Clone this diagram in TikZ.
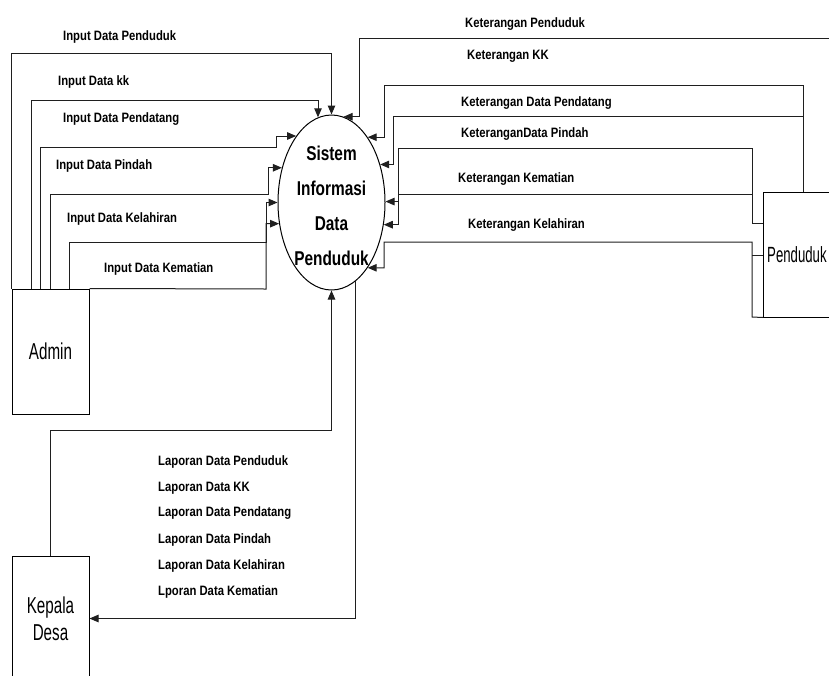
\documentclass[tikz,border=0pt]{standalone}
\usepackage{fontspec}
\setmainfont{Liberation Sans}
\newfontfamily\lblfont[FakeStretch=0.83]{Liberation Sans}
\newfontfamily\entfont[FakeStretch=0.66]{Liberation Sans}
\newfontfamily\pendfont[FakeStretch=0.6]{Liberation Sans}
\newfontfamily\procfont[FakeStretch=0.77]{Liberation Sans}
\usetikzlibrary{arrows.meta,shapes.geometric,calc}
\begin{document}
\begin{tikzpicture}[x=1pt,y=-1pt,
  flow/.style={draw=black!88, line width=1pt, line join=miter, -{Triangle[length=9pt,width=7.5pt]}},
  plain/.style={draw=black!88, line width=1pt},
  lbl/.style={anchor=base west, inner sep=0pt, font=\lblfont\bfseries\fontsize{13.6}{15}\selectfont},
  ent/.style={draw=black, line width=1pt, minimum width=77pt, minimum height=125pt, inner sep=0pt, align=center,
    font=\entfont\fontsize{23}{27}\selectfont},
  procshape/.style={ellipse, draw=black, line width=1pt, minimum width=107pt, minimum height=175pt, inner sep=0pt},
  proctext/.style={align=center, inner sep=0pt, font=\procfont\bfseries\fontsize{20}{35}\selectfont}
]
\useasboundingbox (0,0) rectangle (829,675);
\clip (0,0) rectangle (829,675);
\fill[white] (0,0) rectangle (829,675);

% entities and process
\node[procshape] (proc) at (331.5,202.5) {};
\node[proctext] (proctxt) at (331.5,206) {Sistem\\Informasi\\Data\\Penduduk};
\node[ent] (admin) at (50.5,351.5) {Admin};
\node[ent] (kepala) at (50.5,618.5) {Kepala\\Desa};
\node[ent] (pend) at (802,254.5) {};
\node[anchor=west, inner sep=0pt, font=\pendfont\fontsize{22}{26}\selectfont] (pendtxt) at (767,255) {Penduduk};

% Admin -> process
\draw[flow] (admin.north west) |- (proc.north |- 0,53) -- (proc.north);
\draw[flow] ([xshift=20pt]admin.north west) |- (proc.99 |- 0,100) -- (proc.99);
\draw[flow] ([xshift=29pt]admin.north west) |- (276,147) |- (proc.118.5);
\draw[flow] ([xshift=39pt]admin.north west) |- (268,194) |- (proc.145);
\draw[flow] ([xshift=58pt]admin.north west) |- (266,242) |- (proc.180);
\draw[flow] (admin.north east) -- (266,289) |- (proc.202.5);

% Penduduk -> process
\draw[flow] ([xshift=-10pt]pend.north east) |- (359,38) |- (proc.82.4);
\draw[flow] ([xshift=1pt]pend.north) |- (384,85) |- (proc.61.5);
\coordinate (jPdt) at ([xshift=1pt]pend.north |- 0,116);
\draw[flow] (jPdt) -- (393,116) |- (proc.38.7);
\coordinate (sPdh) at (pend.west |- 0,223);
\draw[flow] (sPdh) -- (752,223) |- (398,148) |- (proc.1);
\coordinate (jKem) at (752,194);
\draw[flow] (jKem) -- (398,194) |- (proc.337.5);
\draw[flow] (pend.south west) -- (752,317) |- (384,242) |- (proc.299.3);
\coordinate (sKel) at (pend.west |- 0,255);
\draw[plain] (sKel) -- (752,255);

% Kepala Desa <-> process
\draw[flow] (kepala.north) |- (0,430 -| proc.south) -- (proc.south);
\draw[flow] (proc.287.5) |- (kepala.east);

% labels
\node[lbl] (l1) at (63,40) {Input Data Penduduk};
\node[lbl] (l2) at (58,85) {Input Data kk};
\node[lbl] (l3) at (63,122) {Input Data Pendatang};
\node[lbl] (l4) at (56,169) {Input Data Pindah};
\node[lbl] (l5) at (67,222) {Input Data Kelahiran};
\node[lbl] (l6) at (104,272) {Input Data Kematian};

\node[lbl] (r1) at (465,27) {Keterangan Penduduk};
\node[lbl] (r2) at (467,59) {Keterangan KK};
\node[lbl] (r3) at (461,106) {Keterangan Data Pendatang};
\node[lbl] (r4) at (461,137) {KeteranganData Pindah};
\node[lbl] (r5) at (458,182) {Keterangan Kematian};
\node[lbl] (r6) at (468,228) {Keterangan Kelahiran};

\node[lbl] (b1) at (158,465) {Laporan Data Penduduk};
\node[lbl] (b2) at (158,491) {Laporan Data KK};
\node[lbl] (b3) at (158,516) {Laporan Data Pendatang};
\node[lbl] (b4) at (158,543) {Laporan Data Pindah};
\node[lbl] (b5) at (158,569) {Laporan Data Kelahiran};
\node[lbl] (b6) at (158,595) {Lporan Data Kematian};
\end{tikzpicture}
\end{document}
